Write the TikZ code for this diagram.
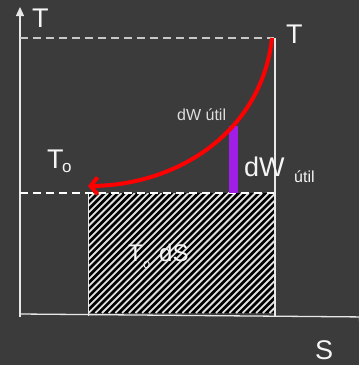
\documentclass[tikz,border=0pt]{standalone}
\usepackage{fontspec}
\setmainfont{Liberation Sans}
\usetikzlibrary{arrows.meta}
\definecolor{bg}{RGB}{59,59,59}
\definecolor{axiscol}{RGB}{232,232,232}
\definecolor{dashcol}{RGB}{200,200,200}
\definecolor{purp}{RGB}{160,30,230}
\definecolor{txt}{RGB}{245,245,245}
\begin{document}
\begin{tikzpicture}[x=1pt,y=-1pt,
  lbl/.style={text=txt, inner sep=0pt, anchor=base west},
  axisline/.style={draw=axiscol, line width=1.3pt},
  guide/.style={line width=1.6pt, dash pattern=on 8pt off 5pt},
  hatchline/.style={draw=white!88!black, line width=1.8pt}]
\fill[bg] (0,0) rectangle (359,365);
\useasboundingbox (0,0) rectangle (359,365);
% coordinates
\coordinate (O) at (20,314);
\coordinate (Ytop) at (20,7);
\coordinate (Xend) at (368,317);
\coordinate (TL) at (20,38);
\coordinate (TR) at (274,38);
\coordinate (OL) at (20,193);
\coordinate (OR) at (274,193);
\coordinate (VB) at (275,316);
\coordinate (VT) at (275,38);
\coordinate (Cstart) at (272,38);
\coordinate (Cend) at (88,186);
% hatched area
\fill[black] (88,193) rectangle (274,313);
\begin{scope}
  \clip (88,193) rectangle (274,313);
  \foreach \k in {0,...,47}
    \draw[hatchline] ({-32+\k*6.7},313) -- ({88+\k*6.7},193);
\end{scope}
\draw[draw=axiscol, line width=1pt] (88,193) -- (88,316);
% axes
\draw[axisline, -{Triangle[length=9pt,width=8pt]}] (20,317) -- (Ytop);
\draw[axisline, -{Triangle[length=9pt,width=8pt]}] (O) -- (Xend);
% guides
\draw[guide, draw=dashcol] (TL) -- (TR);
\draw[guide, draw=white, line width=1.3pt] (OL) -- (OR);
\draw[draw=axiscol, line width=1.2pt] (VT) -- (VB);
% purple bar
\fill[purp] (229,126) rectangle (238,193);
% red curve
\draw[red, line width=4pt, -{Straight Barb[length=7pt,width=17pt]}]
  (Cstart) .. controls (262,130) and (180,185) .. (Cend);
% labels
\node[lbl] (lT) at (32,27) {\fontsize{27}{27}\selectfont T};
\node[lbl] (rT) at (286,43) {\fontsize{27}{27}\selectfont T};
\node[lbl] (lTo) at (47,168) {\fontsize{27}{27}\selectfont T};
\node[lbl] (lTosub) at (62,172) {\fontsize{17}{17}\selectfont o};
\node[lbl, text=txt!90!black] (small) at (177,120) {\fontsize{16}{16}\selectfont dW útil};
\node[lbl] (dW) at (244,176) {\fontsize{27}{27}\selectfont dW};
\node[lbl] (util) at (294,182) {\fontsize{16}{16}\selectfont útil};
\node[lbl] (ToT) at (128,261) {\fontsize{24}{24}\selectfont T};
\node[lbl] (Tosub) at (143,268) {\fontsize{13}{13}\selectfont o};
\node[lbl] (dS) at (159,261) {\fontsize{24}{24}\selectfont dS};
\node[lbl] (S) at (315,359) {\fontsize{27}{27}\selectfont S};
\end{tikzpicture}
\end{document}
